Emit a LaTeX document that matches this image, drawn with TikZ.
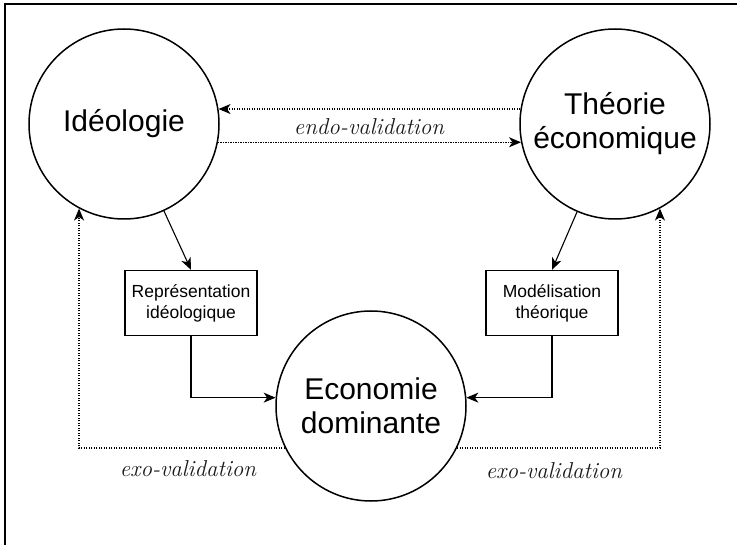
\documentclass[tikz,border=0pt]{standalone}
\usepackage{fontspec}
\setsansfont{Liberation Sans}
\usetikzlibrary{arrows.meta,positioning}
\tikzset{
    >={Stealth[length=12pt,width=10pt,inset=3.5pt]},
    bigcircle/.style={circle,draw,line width=1.5pt,minimum size=190pt,inner sep=0pt,
        align=center,font=\sffamily\fontsize{30}{34}\selectfont},
    smallbox/.style={rectangle,draw,line width=1.3pt,minimum width=132pt,minimum height=65pt,
        inner sep=0pt,align=center,font=\sffamily\fontsize{17.5}{21}\selectfont},
    flow/.style={->,line width=1.1pt},
    validation/.style={->,line width=1.3pt,dash pattern=on 1.3pt off 1.2pt},
    vlabel/.style={font=\itshape\fontsize{23}{26}\selectfont,text=black!90}
}

\begin{document}
\begin{tikzpicture}[x=1pt,y=-1pt]
    \useasboundingbox (0,0) rectangle (737,545);
    % frame
    \draw[line width=2.5pt] (5,545) -- (5,4) -- (737,4);

    % the three poles
    \node[bigcircle] (ideo) at (124,124) {Idéologie};
    \node[bigcircle] (theo) at (615,124) {Théorie\\économique};
    \node[bigcircle] (eco) at (371,406) {Economie\\dominante};

    % intermediate boxes
    \node[smallbox] (rep) at (191,303) {Représentation\\idéologique};
    \node[smallbox] (mod) at (552,303) {Modélisation\\théorique};

    % solid links
    \draw[flow] (ideo) -- (rep.north);
    \draw[flow] (theo) -- (mod.north);
    \draw[flow] (rep.south) |- (eco.175);
    \draw[flow] (mod.south) |- (eco.5);

    % endo-validation
    \draw[validation] (theo.171) -- (ideo.9);
    \draw[validation] (ideo.349) -- (theo.191);
    \node[vlabel] (endo) at (369,127) {endo-validation};

    % exo-validation
    \draw[validation] (eco.206) -| (ideo.242);
    \draw[validation] (eco.334) -| (theo.298);
    \node[vlabel] (exoleft) at (188,469) {exo-validation};
    \node[vlabel] (exoright) at (554,471) {exo-validation};
\end{tikzpicture}
\end{document}
